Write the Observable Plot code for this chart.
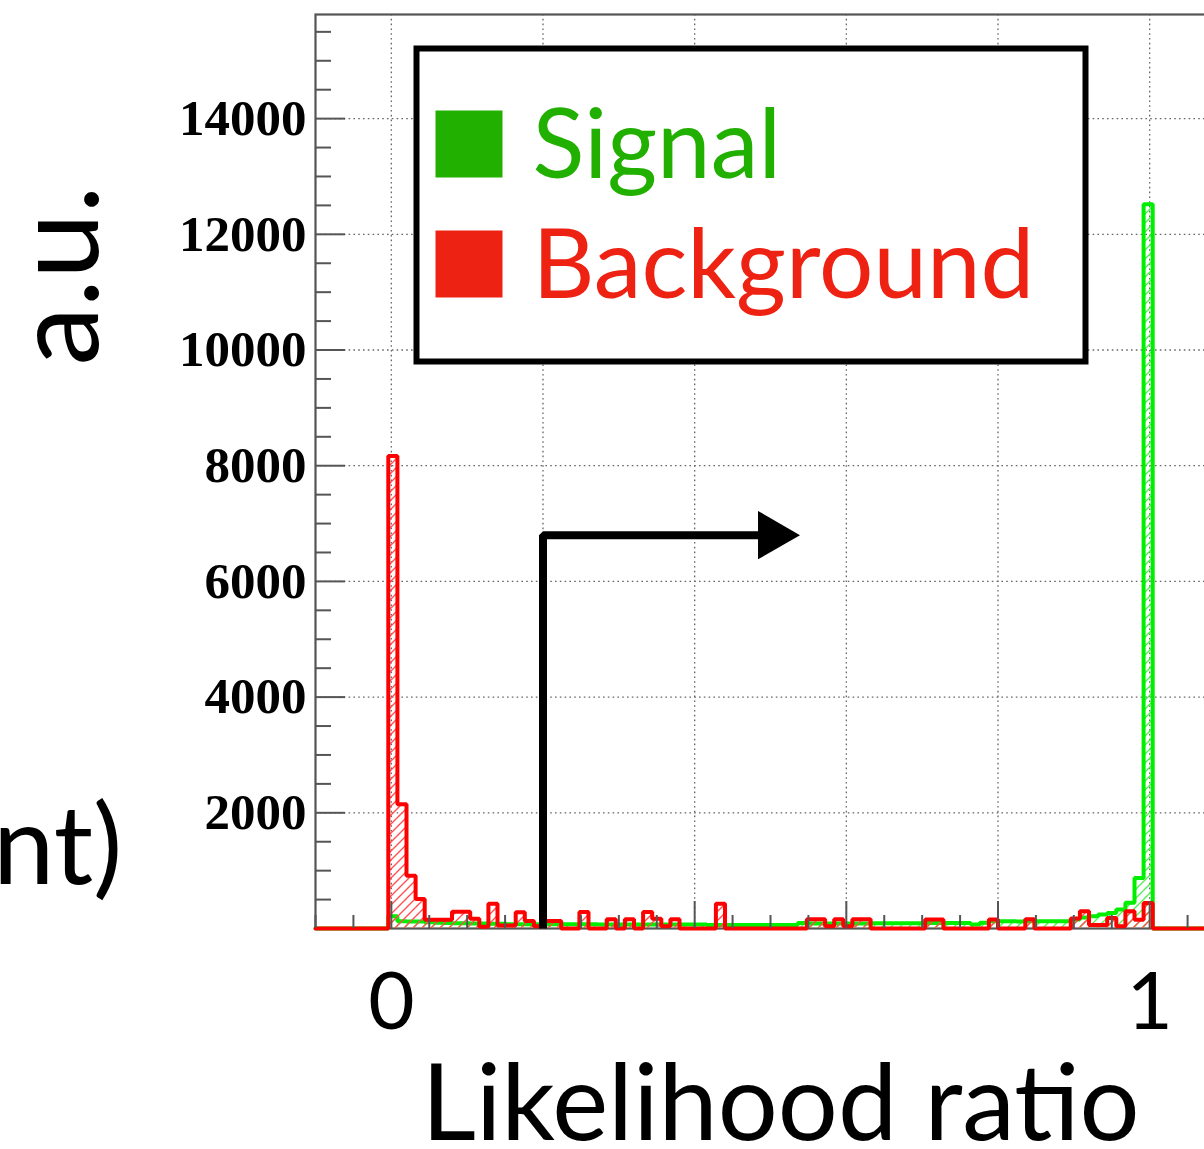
<!DOCTYPE html>
<html><head><meta charset="utf-8">
<script src="https://cdn.jsdelivr.net/npm/d3@7"></script>
<script src="https://cdn.jsdelivr.net/npm/@observablehq/plot@0.6"></script>
<style>html,body{margin:0;padding:0;background:#fff;overflow:hidden;} #chart svg{display:block;}</style>
</head><body><div id="chart"></div>
<script>
// ---- data ----
const binRange = [-0.1, 1.1];
const nBins = 100;
const background = [
  0,0,0,0,0,0,0,0,
  8170,2150,910,510,150,150,150,290,290,170,30,430,
  50,50,280,130,40,130,130,0,0,285,0,0,160,0,160,0,285,170,40,160,
  0,0,0,0,430,
  0,0,0,0,0,0,0,0,0,
  160,160,40,160,40,160,160,
  0,0,0,0,0,0,
  155,155,
  0,0,0,0,0,
  155,
  0,0,0,
  160,
  0,0,0,0,
  175,300,60,60,180,40,300,150,440,
  0,0,0,0,0,0,0,0
];
const signal = [
  0,0,0,0,0,0,0,0,
  210,125,120,120,110,100,95,90,90,85,85,80,80,
  75,75,75,75,75,75,75,75,75,75,
  70,70,70,70,70,70,70,70,70,70,70,70,60,60,60,60,60,60,60,60,
  60,60,97,85,85,85,85,85,85,85,
  90,90,90,90,90,90,
  95,95,97,97,95,70,
  100,127,127,127,120,127,127,127,125,125,
  155,190,213,240,270,330,445,875,12520,
  0,0,0,0,0,0,0,0
];
const xMajorTicks = [0, 0.2, 0.4, 0.6, 0.8, 1.0];
const xTickLabels = [{x: 0, label: "0"}, {x: 1, label: "1"}];
const yMajorTicks = [2000, 4000, 6000, 8000, 10000, 12000, 14000];
const yMax = 15800;
const xTitle = "Likelihood ratio";
const yTitle = "a.u.";
const strayLabel = "ant)";
const legendLabels = ["Signal", "Background"];
const legendColors = ["#22b000", "#ee2212"];
const cutValue = 0.2, arrowLevel = 6800, arrowLineEnd = 0.487, arrowHeadX = 0.502;

// ---- derived structures ----
const binW = (binRange[1] - binRange[0]) / nBins;
const edges = d3.range(nBins + 1).map(i => binRange[0] + i * binW);
const toBins = vals => vals.map((v, i) => ({x1: edges[i], x2: edges[i + 1], v}));
const toSteps = vals => [...vals.map((v, i) => ({x: edges[i], v})), {x: edges[nBins], v: vals[nBins - 1]}];
const xMinor = d3.range(-2, 23).map(i => +(i * 0.05).toFixed(2)).filter(v => Math.abs(v / 0.2 - Math.round(v / 0.2)) > 1e-6);
const yMinor = d3.range(500, yMax, 500).filter(v => v % 2000 !== 0);

const W = 1204, H = 1149;
const axisCol = "#555";
const grid = {stroke: "#666", strokeOpacity: 1, strokeDasharray: "1.6,3.2", strokeWidth: 1.3};
const sans = "Lato, 'Open Sans', sans-serif";
const label = (txt, o) => Plot.text([txt], {frameAnchor: "top-left", text: d => d, textAnchor: "middle", lineAnchor: "middle",
  fontFamily: sans, fill: "black", ...o});

const legendMarks = legendLabels.flatMap((lab, i) => [
  Plot.dot([lab], {frameAnchor: "top-left", dx: 153.5, dy: 129.5 + i * 120, symbol: "square", r: 37.8, fill: legendColors[i], stroke: null}),
  label(lab, {dx: 217, dy: 133 + i * 120, textAnchor: "start", fontSize: 96, fill: legendColors[i]})
]);

const chart = Plot.plot({
  width: W, height: H,
  marginLeft: 315, marginRight: -21, marginTop: 14, marginBottom: H - 928,
  x: {domain: binRange, axis: null},
  y: {domain: [0, yMax], axis: null},
  style: {background: "white", overflow: "hidden"},
  marks: [
    Plot.gridY(yMajorTicks, grid),
    Plot.gridX(xMajorTicks, grid),
    Plot.frame({stroke: axisCol, strokeWidth: 2.2}),
    // signal
    Plot.rectY(toBins(signal), {x1: "x1", x2: "x2", y: "v", fill: "url(#hatchGreen)"}),
    Plot.line(toSteps(signal), {x: "x", y: "v", curve: "step-after", stroke: "#00ee00", strokeWidth: 4, strokeLinejoin: "miter"}),
    // background
    Plot.rectY(toBins(background), {x1: "x1", x2: "x2", y: "v", fill: "url(#hatchRed)"}),
    Plot.line(toSteps(background), {x: "x", y: "v", curve: "step-after", stroke: "#ff0000", strokeWidth: 4, strokeLinejoin: "miter"}),
    // ticks
    Plot.tickY(yMajorTicks, {y: d => d, insetRight: 880, stroke: axisCol, strokeWidth: 2}),
    Plot.tickY(yMinor, {y: d => d, insetRight: 894, stroke: axisCol, strokeWidth: 2}),
    Plot.tickX(xMajorTicks, {x: d => d, insetTop: 887, stroke: axisCol, strokeWidth: 2}),
    Plot.tickX(xMinor, {x: d => d, insetTop: 901, stroke: axisCol, strokeWidth: 2}),
    // y tick labels
    Plot.text(yMajorTicks, {y: d => d, frameAnchor: "left", text: d => String(d), textAnchor: "end", lineAnchor: "middle", dx: -9,
      fontSize: 51, fontWeight: "bold", fontFamily: "'Liberation Serif', serif", fill: "black"}),
    // x tick labels
    Plot.text(xTickLabels, {x: "x", text: "label", frameAnchor: "bottom", lineAnchor: "middle", dy: 75, fontSize: 80, fontFamily: sans, fill: "black"}),
    // cut arrow
    Plot.line([{x: cutValue, y: 0}, {x: cutValue, y: arrowLevel}, {x: arrowLineEnd, y: arrowLevel}],
      {x: "x", y: "y", stroke: "black", strokeWidth: 8, strokeLinejoin: "miter", strokeLinecap: "butt"}),
    Plot.dot([{x: arrowHeadX, y: arrowLevel}], {x: "x", y: "y", symbol: "triangle", rotate: 90, r: 18, fill: "black", stroke: null}),
    // legend
    Plot.frame({fill: "white", stroke: "black", strokeWidth: 6, insetLeft: 101, insetRight: 140, insetTop: 34, insetBottom: 567}),
    ...legendMarks,
    // titles
    label(xTitle, {dx: 465, dy: 1092, fontSize: 106}),
    label(yTitle, {dx: -255, dy: 261, rotate: -90, fontSize: 118}),
    label(strayLabel, {dx: -193, dy: 834, textAnchor: "end", fontSize: 110})
  ]
});

document.getElementById("chart").appendChild(chart);
const svg = d3.select(chart);
const defs = svg.insert("defs", ":first-child");
function hatch(id, color) {
  const p = defs.append("pattern").attr("id", id).attr("patternUnits", "userSpaceOnUse").attr("width", 9).attr("height", 9);
  p.append("path").attr("d", "M-2,2 l4,-4 M0,9 l9,-9 M7,11 l4,-4").attr("stroke", color).attr("stroke-width", 1.4).attr("fill", "none");
}
hatch("hatchRed", "#ff5050");
hatch("hatchGreen", "#55ee55");
</script></body></html>
